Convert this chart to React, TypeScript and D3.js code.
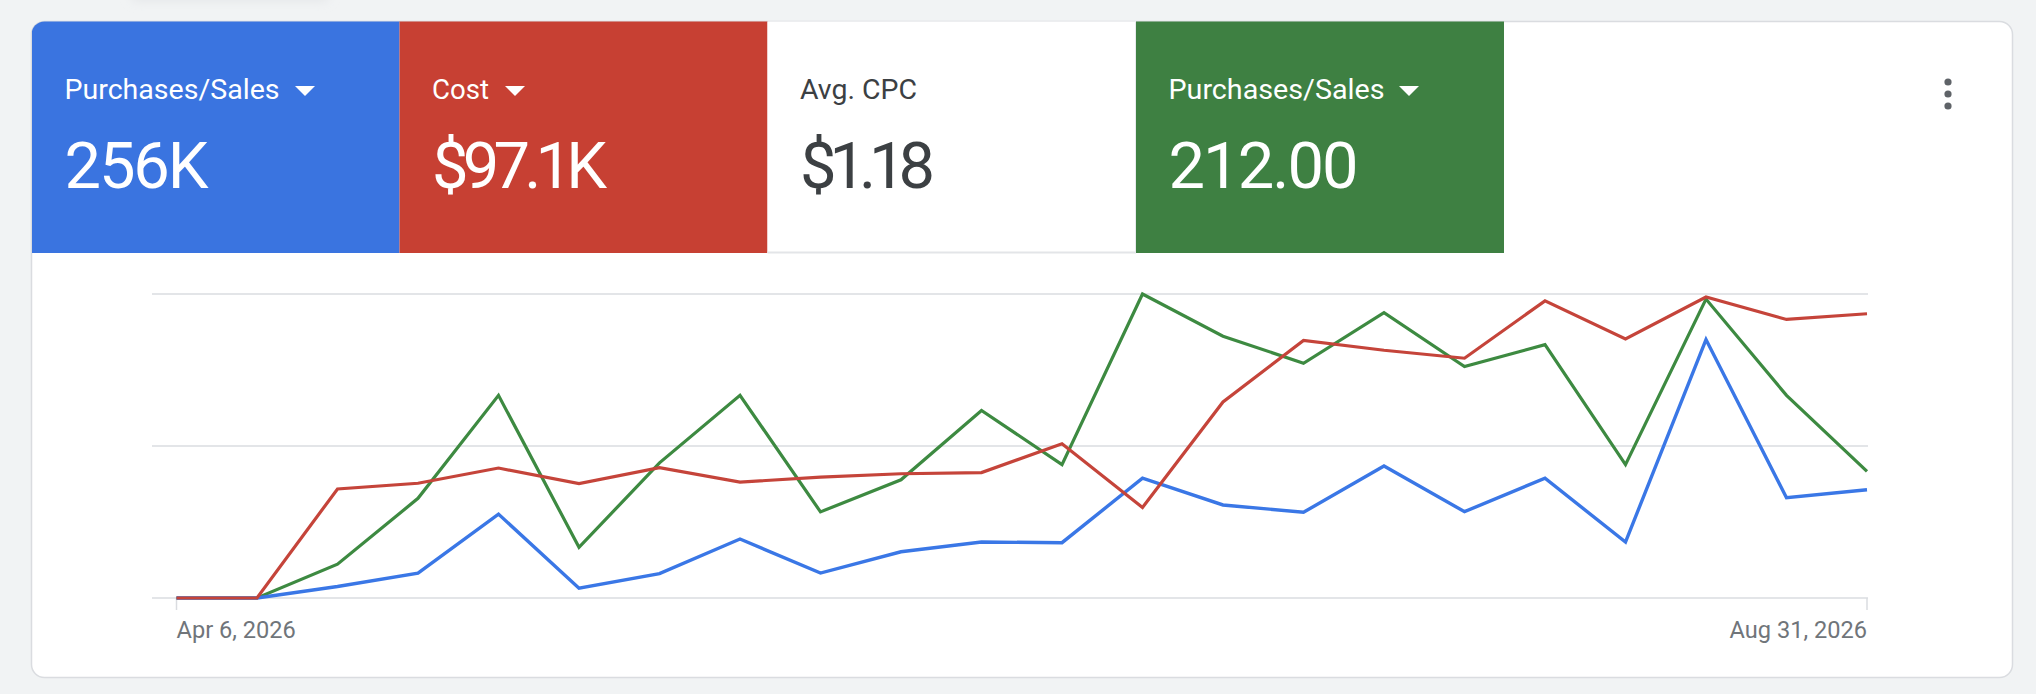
import React from "react";
import * as d3 from "d3";

const weeks: string[] = [
  "2026-04-06", "2026-04-13", "2026-04-20", "2026-04-27", "2026-05-04", "2026-05-11",
  "2026-05-18", "2026-05-25", "2026-06-01", "2026-06-08", "2026-06-15", "2026-06-22",
  "2026-06-29", "2026-07-06", "2026-07-13", "2026-07-20", "2026-07-27", "2026-08-03",
  "2026-08-10", "2026-08-17", "2026-08-24", "2026-08-31",
];
// Purchases/Sales conversion value (blue)
const convValue: number[] = [0, 0, 1900, 4100, 13800, 1600, 4000, 9700, 4100, 7600, 9200, 9100,
  19700, 15300, 14100, 21700, 14200, 19700, 9200, 42500, 16500, 17800];
// Cost (red)
const cost: number[] = [0, 0, 2870, 3020, 3420, 3010, 3430, 3050, 3180, 3270, 3300, 4060,
  2380, 5160, 6780, 6520, 6310, 7820, 6820, 7920, 7330, 7480];
// Purchases/Sales conversions (green)
const conversions: number[] = [0, 0, 2, 5.9, 12, 3, 8, 12, 5.1, 7, 11.1, 7.9, 18, 15.5, 13.9, 16.9,
  13.7, 15, 7.9, 17.7, 12, 7.5];

const tileLabels: string[] = ["Purchases/Sales", "Cost", "Avg. CPC", "Purchases/Sales"];
const tileValues: string[] = ["256K", "$97.1K", "$1.18", "212.00"];
const tileDropdown: boolean[] = [true, true, false, true];
const axisLabels: string[] = ["Apr 6, 2026", "Aug 31, 2026"];

const BLUE_TILE = "#3a74e0";
const RED_TILE = "#c74033";
const GREEN_TILE = "#3e8042";
const BLUE_LINE = "#3a77e6";
const RED_LINE = "#c5443a";
const GREEN_LINE = "#3d8a41";

export default function App() {
  const W = 2036, H = 694;
  const card = { x: 31.5, y: 21.5, w: 1981, h: 656, r: 13 };
  const tileTop = 22, tileBottom = 253;
  const tileX = [32, 399.5, 767.5, 1136, 1504];
  const tileFill = [BLUE_TILE, RED_TILE, "#ffffff", GREEN_TILE];
  const textFill = ["#ffffff", "#ffffff", "#3c4043", "#ffffff"];
  const labelWidths = [215, 57, 117, 216];
  const valueWidths = [144, 175, 135, 190];
  const triX = [295, 505, 0, 1399];

  const parse = d3.timeParse("%Y-%m-%d");
  const dates = weeks.map((d) => parse(d) as Date);
  const x = d3.scaleTime().domain(d3.extent(dates) as [Date, Date]).range([176.5, 1867]);
  const yTop = 294, yBase = 598;
  const yBlue = d3.scaleLinear().domain([0, 50000]).range([yBase, yTop]);
  const yRed = d3.scaleLinear().domain([0, 8000]).range([yBase, yTop]);
  const yGreen = d3.scaleLinear().domain([0, 18]).range([yBase, yTop]);
  const gridVals = [0, 0.5, 1];
  const yFrac = d3.scaleLinear().domain([0, 1]).range([yBase, yTop]);

  const mk = (vals: number[], y: d3.ScaleLinear<number, number>) =>
    d3.line<number>().x((_, i) => x(dates[i])).y((v) => y(v))(vals) || "";

  const x0 = x(dates[0]);
  const x1 = x(dates[dates.length - 1]);

  return (
    <svg width={W} height={H} style={{ position: "absolute", left: 0, top: 0, display: "block" }}
      fontFamily="Roboto, 'Noto Sans', sans-serif">
      <defs>
        <clipPath id="cardClip">
          <rect x={card.x} y={card.y} width={card.w} height={card.h} rx={card.r} />
        </clipPath>
        <filter id="blur" x="-20%" y="-200%" width="140%" height="500%">
          <feGaussianBlur stdDeviation="5" />
        </filter>
      </defs>
      <rect x={0} y={0} width={W} height={H} fill="#f1f3f4" />
      <rect x={130} y={-14} width={200} height={16} rx={8} fill="#e6e8ea" filter="url(#blur)" />
      <rect x={card.x} y={card.y} width={card.w} height={card.h} rx={card.r} fill="#ffffff" stroke="#dadce0" strokeWidth={1.5} />
      <g clipPath="url(#cardClip)">
        {tileFill.map((f, i) => (
          <rect key={i} x={tileX[i]} y={tileTop - 2} width={tileX[i + 1] - tileX[i]} height={tileBottom - tileTop + 2} fill={f} />
        ))}
        <line x1={tileX[2]} x2={tileX[3]} y1={tileBottom - 0.5} y2={tileBottom - 0.5} stroke="#e3e5e8" strokeWidth={2} />
        <line x1={tileX[3] - 0.5} x2={tileX[3] - 0.5} y1={tileTop} y2={tileBottom} stroke="#e8eaed" strokeWidth={1} />
      </g>
      {tileLabels.map((lab, i) => {
        const tx = tileX[i] + 32.5;
        return (
          <g key={i}>
            <text x={tx} y={99} fontSize={28} fill={textFill[i]} textLength={labelWidths[i]} lengthAdjust="spacingAndGlyphs">{lab}</text>
            <text x={tx} y={188} fontSize={65} fill={textFill[i]} textLength={valueWidths[i]} lengthAdjust="spacing">{tileValues[i]}</text>
          </g>
        );
      })}
      {tileDropdown.map((has, i) => {
        if (!has) return null;
        const ox = triX[i];
        return <path key={"t" + i} d={`M${ox},86 L${ox + 20},86 L${ox + 10},96 Z`} fill="#ffffff" />;
      })}
      {[82, 94, 106].map((cy) => (
        <circle key={cy} cx={1948} cy={cy} r={3.6} fill="#5f6368" />
      ))}
      {gridVals.map((g) => (
        <line key={g} x1={152} x2={1868} y1={yFrac(g)} y2={yFrac(g)} stroke="#dadce0" strokeWidth={1.5} />
      ))}
      <line x1={x0} x2={x0} y1={yBase} y2={610} stroke="#dadce0" strokeWidth={1.5} />
      <line x1={x1} x2={x1} y1={yBase} y2={610} stroke="#dadce0" strokeWidth={1.5} />
      <path d={mk(conversions, yGreen)} fill="none" stroke={GREEN_LINE} strokeWidth={3.2} strokeLinejoin="miter" />
      <path d={mk(convValue, yBlue)} fill="none" stroke={BLUE_LINE} strokeWidth={3.4} strokeLinejoin="miter" />
      <path d={mk(cost, yRed)} fill="none" stroke={RED_LINE} strokeWidth={3.2} strokeLinejoin="miter" />
      <text x={x0} y={638} fontSize={23.6} fill="#70757a">{axisLabels[0]}</text>
      <text x={x1} y={638} fontSize={23.6} fill="#70757a" textAnchor="end">{axisLabels[1]}</text>
    </svg>
  );
}
